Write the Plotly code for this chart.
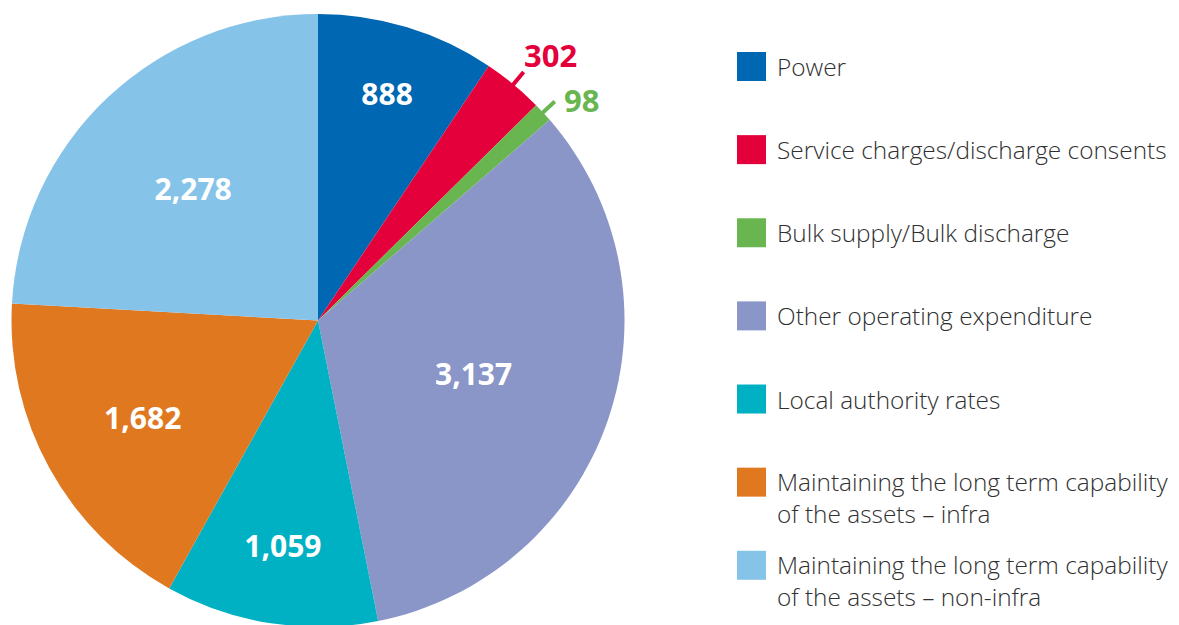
import math
import plotly.graph_objects as go

# ---- data ----
categories = [
    "Power",
    "Service charges/discharge consents",
    "Bulk supply/Bulk discharge",
    "Other operating expenditure",
    "Local authority rates",
    "Maintaining the long term capability<br>of the assets – infra",
    "Maintaining the long term capability<br>of the assets – non-infra",
]
values = [888, 302, 98, 3137, 1059, 1682, 2278]
colors = ["#0067b2", "#e4003b", "#69b550", "#8a95c8", "#00b1c3", "#e07820", "#86c3e9"]
label_outside = [False, True, True, False, False, False, False]

# ---- layout constants (pixels, figure coordinates) ----
W, H = 1179, 625
cx, cy, R = 310, 312.5, 306.5          # pie centre / radius
leg_x, leg_top, leg_step = 743.5, 58.5, 83.13
text_dx = 23.5
out_text_offset = {1: (-1.6, 17), 2: (7.4, 2)}   # pixel offset of outside labels from line end

total = sum(values)

fig = go.Figure()

fig.add_trace(go.Pie(
    values=values,
    labels=[c.replace("<br>", " ") for c in categories],
    marker=dict(colors=colors, line=dict(width=0)),
    sort=False,
    direction="clockwise",
    rotation=0,
    text=["" if o else f"{v:,}" for v, o in zip(values, label_outside)],
    textinfo="text",
    textposition="inside",
    insidetextorientation="horizontal",
    insidetextfont=dict(color="white", size=30, family="Open Sans", weight="bold"),
    domain=dict(x=[(cx - R) / W, (cx + R) / W], y=[1 - (cy + R) / H, 1 - (cy - R) / H]),
    showlegend=False,
    hoverinfo="label+value",
))

# legend swatches as a scatter trace
fig.add_trace(go.Scatter(
    x=[0] * len(categories),
    y=list(range(len(categories))),
    mode="markers",
    marker=dict(symbol="square", size=29, color=colors, line=dict(width=0)),
    showlegend=False,
    hoverinfo="skip",
    xaxis="x", yaxis="y",
))

annotations = []
for i, lab in enumerate(categories):
    annotations.append(dict(
        x=0, y=i, xref="x", yref="y", text=lab, showarrow=False,
        xanchor="left", yanchor="middle", align="left",
        xshift=text_dx, yshift=-15.5 if "<br>" in lab else 0,
        font=dict(family="Open Sans", size=24.4, color="#303030", weight=300),
    ))

shapes = []
cum = 0
for i, v in enumerate(values):
    if label_outside[i]:
        ang = (cum + v / 2) / total * 2 * math.pi
        s, c = math.sin(ang), math.cos(ang)
        x0, y0 = cx + (R - 2) * s, cy - (R - 2) * c
        x1, y1 = cx + (R + 16) * s, cy - (R + 16) * c
        shapes.append(dict(type="line", xref="paper", yref="paper",
                           x0=x0 / W, y0=1 - y0 / H, x1=x1 / W, y1=1 - y1 / H,
                           line=dict(color=colors[i], width=4)))
        dx, dy = out_text_offset[i]
        annotations.append(dict(
            x=(x1 + dx) / W, y=1 - (y1 - dy) / H, xref="paper", yref="paper",
            text=f"{v:,}", showarrow=False, xanchor="left", yanchor="middle",
            font=dict(family="Open Sans", size=31, color=colors[i], weight="bold"),
        ))
    cum += v

fig.update_layout(
    width=W, height=H,
    margin=dict(l=0, r=0, t=0, b=0),
    paper_bgcolor="white", plot_bgcolor="rgba(0,0,0,0)",
    xaxis=dict(domain=[0, 1], range=[-leg_x, W - leg_x], visible=False, fixedrange=True),
    yaxis=dict(domain=[0, 1], range=[(H - leg_top) / leg_step, -leg_top / leg_step],
               visible=False, fixedrange=True),
    annotations=annotations,
    shapes=shapes,
    showlegend=False,
)

fig.write_html("out.html")
